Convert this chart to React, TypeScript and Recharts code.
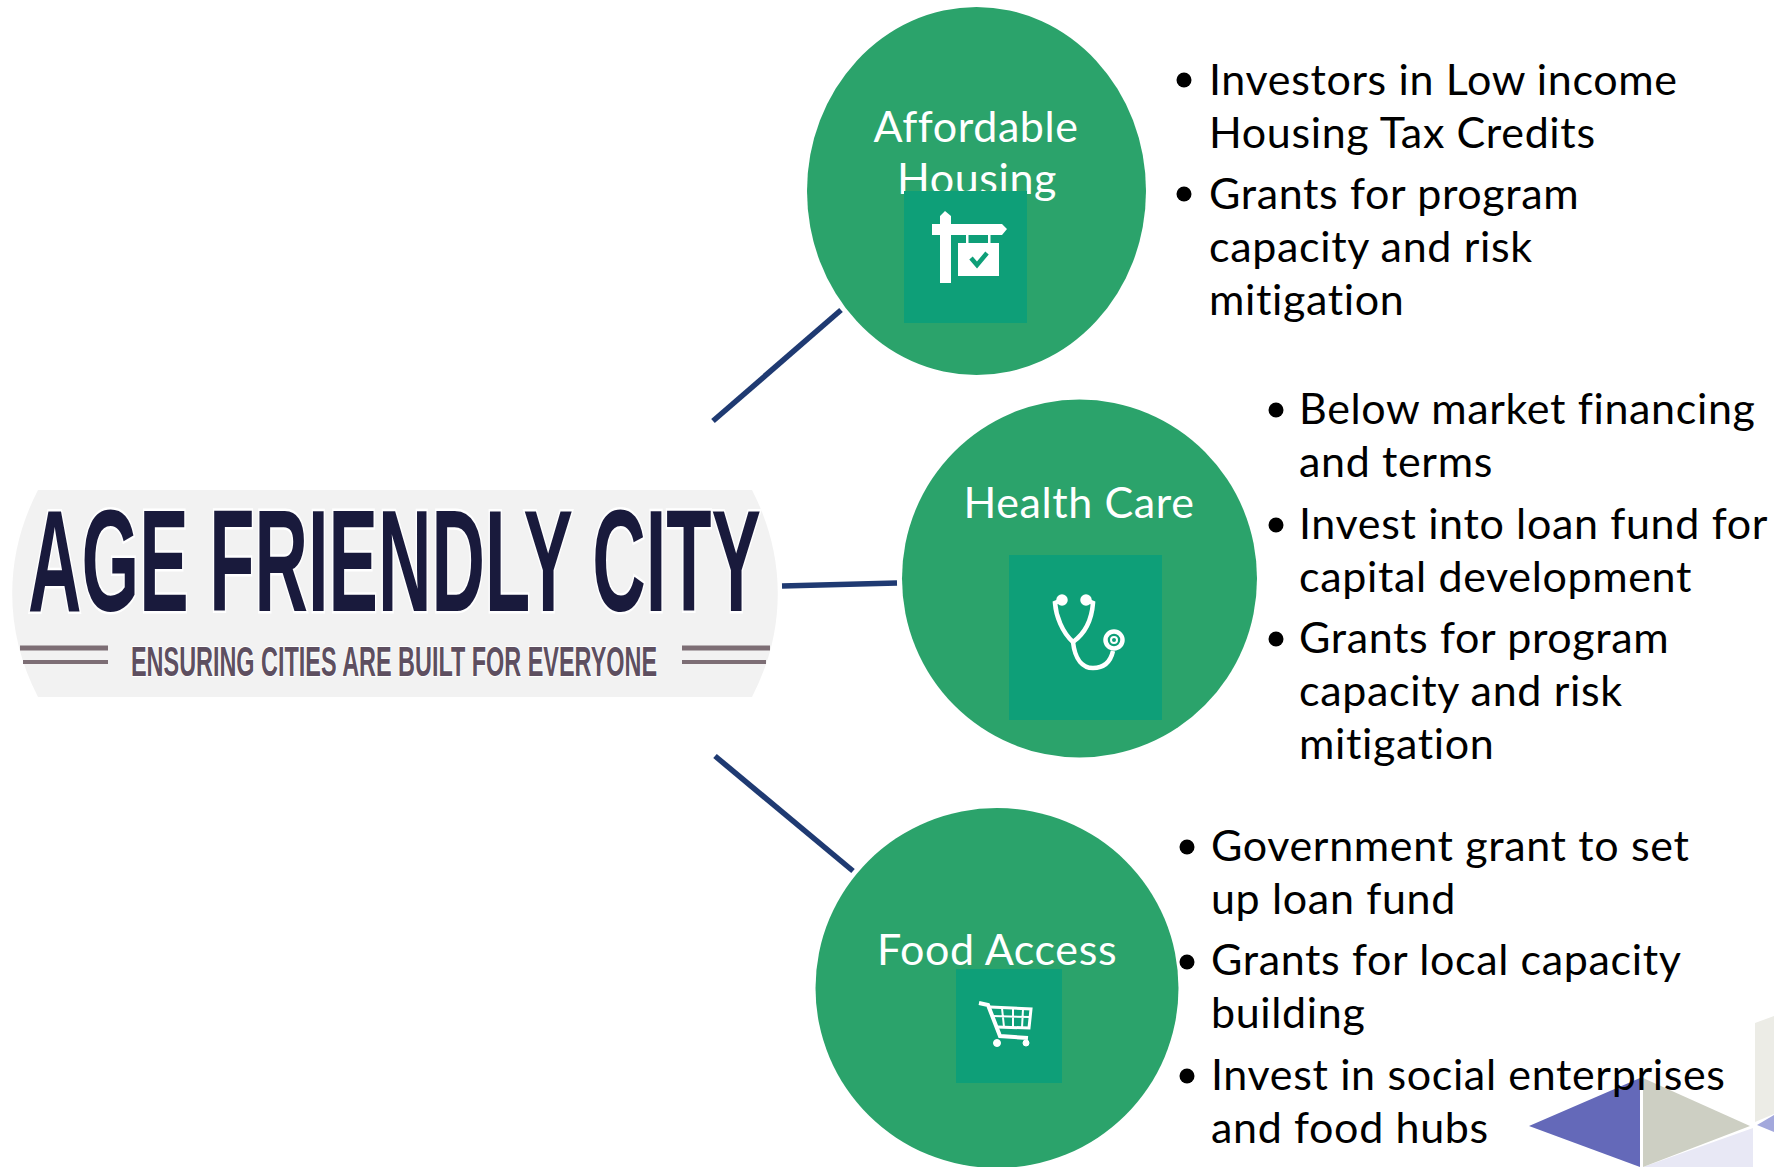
// App.tsx - Age Friendly City diagram, drawn on a pixel-sized number scale
import React from 'react';
import { ScatterChart, Scatter, XAxis, YAxis } from 'recharts';

const WIDTH = 1774;
const HEIGHT = 1167;

const GREEN = '#2BA36B';
const TEAL = '#0E9F78';
const NAVY = '#1F3A72';
const BODY_FONT = 'Lato, Carlito, sans-serif';

// logo
const logoCentre = [{ x: 395, y: 594 }];
const logoTitle = [{ x: 28, y: 611, label: 'AGE FRIENDLY CITY' }];
const logoTagline = [{ x: 131, y: 676, label: 'ENSURING CITIES ARE BUILT FOR EVERYONE' }];
const stripeLeftTop = [{ x: 20, y: 648 }, { x: 108, y: 648 }];
const stripeLeftBottom = [{ x: 23, y: 662 }, { x: 108, y: 662 }];
const stripeRightTop = [{ x: 682, y: 648 }, { x: 770, y: 648 }];
const stripeRightBottom = [{ x: 682, y: 662 }, { x: 766, y: 662 }];

// connectors
const connectorTop = [{ x: 713, y: 421 }, { x: 841, y: 310 }];
const connectorMiddle = [{ x: 782, y: 586 }, { x: 897, y: 583 }];
const connectorBottom = [{ x: 715, y: 756 }, { x: 853, y: 871 }];

// topic circles
const circles = [
  { x: 976.5, y: 191, rx: 169.5, ry: 184 },
  { x: 1079.5, y: 578.5, rx: 177.5, ry: 179 },
  { x: 997, y: 988, rx: 181.5, ry: 180 },
];
const circleLabels = [
  { x: 976, y: 142, label: 'Affordable' },
  { x: 977, y: 194, label: 'Housing' },
  { x: 1079, y: 518, label: 'Health Care' },
  { x: 997, y: 965, label: 'Food Access' },
];
const iconTiles = [
  { x: 904, y: 191, w: 123, h: 132 },
  { x: 1009, y: 555, w: 153, h: 165 },
  { x: 956, y: 969, w: 106, h: 114 },
];
const signIcon = [{ x: 940, y: 211 }];
const stethoscopeIcon = [{ x: 1086, y: 624 }];
const cartIcon = [{ x: 1000, y: 1019 }];

// bullet lists
const bullets = [
  { x: 1184, y: 80 },
  { x: 1184, y: 194 },
  { x: 1276, y: 410 },
  { x: 1276, y: 525 },
  { x: 1276, y: 639 },
  { x: 1187, y: 847 },
  { x: 1187, y: 962 },
  { x: 1187, y: 1076 },
];
const bulletLines = [
  { x: 1209, y: 95, label: 'Investors in Low income' },
  { x: 1209, y: 148, label: 'Housing Tax Credits' },
  { x: 1209, y: 209, label: 'Grants for program' },
  { x: 1209, y: 262, label: 'capacity and risk' },
  { x: 1209, y: 315, label: 'mitigation' },
  { x: 1299, y: 424, label: 'Below market financing' },
  { x: 1299, y: 477, label: 'and terms' },
  { x: 1299, y: 539, label: 'Invest into loan fund for' },
  { x: 1299, y: 592, label: 'capital development' },
  { x: 1299, y: 653, label: 'Grants for program' },
  { x: 1299, y: 706, label: 'capacity and risk' },
  { x: 1299, y: 759, label: 'mitigation' },
  { x: 1211, y: 861, label: 'Government grant to set' },
  { x: 1211, y: 914, label: 'up loan fund' },
  { x: 1211, y: 975, label: 'Grants for local capacity' },
  { x: 1211, y: 1028, label: 'building' },
  { x: 1211, y: 1090, label: 'Invest in social enterprises' },
  { x: 1211, y: 1143, label: 'and food hubs' },
];

// corner decoration
const decorPale = [{ x: 1755, y: 1023 }, { x: 1774, y: 1016 }, { x: 1774, y: 1114 }, { x: 1755, y: 1122 }];
const decorLavender = [{ x: 1643, y: 1167 }, { x: 1753, y: 1128 }, { x: 1753, y: 1167 }];
const decorBlue = [{ x: 1529, y: 1126 }, { x: 1640, y: 1078 }, { x: 1640, y: 1167 }];
const decorGrey = [{ x: 1643, y: 1078 }, { x: 1750, y: 1126 }, { x: 1643, y: 1167 }];
const decorBlueSmall = [{ x: 1757, y: 1125 }, { x: 1774, y: 1115 }, { x: 1774, y: 1132 }];

const None = () => null;

const LogoShape = ({ cx, cy }: any) => (
  <path
    transform={`translate(${cx},${cy})`}
    d="M-357,-104 L357,-104 A383,287 0 0 1 357,103 L-357,103 A383,287 0 0 1 -357,-104 Z"
    fill="#F2F2F2"
  />
);

const CircleShape = ({ cx, cy, payload }: any) => (
  <ellipse cx={cx} cy={cy} rx={payload.rx} ry={payload.ry} fill={GREEN} />
);

const TileShape = ({ cx, cy, payload }: any) => (
  <rect x={cx} y={cy} width={payload.w} height={payload.h} fill={TEAL} />
);

const BulletShape = ({ cx, cy }: any) => <circle cx={cx} cy={cy} r={7.5} fill="#000" />;

const BodyText = ({ cx, cy, payload }: any) => (
  <text x={cx} y={cy} fontFamily={BODY_FONT} fontSize={43} letterSpacing={0.65} fill="#000">
    {payload.label}
  </text>
);

const CircleText = ({ cx, cy, payload }: any) => (
  <text x={cx} y={cy} textAnchor="middle" fontFamily={BODY_FONT} fontSize={43} letterSpacing={0.6} fill="#fff">
    {payload.label}
  </text>
);

const TitleText = ({ cx, cy, payload }: any) => (
  <text
    x={cx}
    y={cy}
    fontFamily="'Liberation Sans Narrow', 'Liberation Sans', sans-serif"
    fontWeight="bold"
    fontSize={145}
    fill="#191A3C"
    stroke="#fff"
    strokeWidth={5}
    paintOrder="stroke"
    textLength={733}
    lengthAdjust="spacingAndGlyphs"
  >
    {payload.label}
  </text>
);

const TaglineText = ({ cx, cy, payload }: any) => (
  <text
    x={cx}
    y={cy}
    fontFamily="'Liberation Sans Narrow', 'Liberation Sans', sans-serif"
    fontWeight="bold"
    fontSize={43}
    fill="#5E4F60"
    stroke="#fff"
    strokeWidth={2}
    paintOrder="stroke"
    textLength={526}
    lengthAdjust="spacingAndGlyphs"
  >
    {payload.label}
  </text>
);

const SignShape = ({ cx, cy }: any) => (
  <g transform={`translate(${cx},${cy})`} fill="#fff">
    <path d="M0,5 L5,0 L11,5 L11,13 L62,13 L67,18 L62,24 L11,24 L11,72 L0,72 L0,24 L-8,24 L-8,13 L0,13 Z" />
    <rect x={26} y={24} width={2.5} height={9} />
    <rect x={48} y={24} width={2.5} height={9} />
    <rect x={18} y={32} width={41} height={33} />
    <path d="M31,47 L37,54 L47,42" fill="none" stroke={TEAL} strokeWidth={4.5} />
  </g>
);

const StethoscopeShape = ({ cx, cy }: any) => (
  <g transform={`translate(${cx},${cy})`} fill="none" stroke="#fff" strokeWidth={4.5}>
    <path d="M-24,-24 L-31,-21 C-30,-8 -24,8 -13,18 C-11,36 -3,44 7,44 C16,44 24,40 27,27" />
    <path d="M0,-24 L7,-21 C6,-8 1,8 -13,18" />
    <circle cx={-24} cy={-24} r={3.5} fill="#fff" />
    <circle cx={0} cy={-24} r={3.5} fill="#fff" />
    <circle cx={28} cy={16} r={8.5} />
    <circle cx={28} cy={16} r={3} strokeWidth={2} />
  </g>
);

const CartShape = ({ cx, cy }: any) => (
  <g transform={`translate(${cx},${cy})`} fill="none" stroke="#fff">
    <path d="M-21,-16 L-12,-14 L0,17 L28,19" strokeWidth={4} />
    <path d="M-10,-12 L31,-10 L29,9 L-3,8" strokeWidth={3} />
    <path d="M-8,-3 L30,-2 M2,-11 L4,8 M13,-11 L13,9 M23,-10 L22,9" strokeWidth={2} />
    <circle cx={-3} cy={24} r={3.5} fill="#fff" strokeWidth={1} />
    <circle cx={26} cy={24} r={3} fill="#fff" strokeWidth={1} />
  </g>
);

// draws one filled polygon from the scaled positions of its first vertex
const polygonShape = (vertices: { x: number; y: number }[], fill: string) => ({ cx, cy, payload }: any) => {
  if (payload !== vertices[0]) return null;
  const dx = cx - payload.x;
  const dy = cy - payload.y;
  const points = vertices.map((v) => `${v.x + dx},${v.y + dy}`).join(' ');
  return <polygon points={points} fill={fill} />;
};

const rule = (data: { x: number; y: number }[], stroke: string, strokeWidth: number, name: string) => (
  <Scatter
    key={name}
    name={name}
    data={data}
    line={{ stroke, strokeWidth }}
    shape={None}
    isAnimationActive={false}
  />
);

const polygon = (data: { x: number; y: number }[], fill: string, name: string) => (
  <Scatter key={name} name={name} data={data} shape={polygonShape(data, fill)} isAnimationActive={false} />
);

export default function App() {
  return (
    <div style={{ position: 'absolute', left: 0, top: 0, width: WIDTH, height: HEIGHT, background: '#fff' }}>
      <ScatterChart width={WIDTH} height={HEIGHT} margin={{ top: 0, right: 0, bottom: 0, left: 0 }}>
        <XAxis type="number" dataKey="x" domain={[0, WIDTH]} hide />
        <YAxis type="number" dataKey="y" domain={[0, HEIGHT]} reversed hide />

        <Scatter name="logo" data={logoCentre} shape={LogoShape} isAnimationActive={false} />
        {rule(stripeLeftTop, '#7D6E75', 5, 'stripe-lt')}
        {rule(stripeLeftBottom, '#7D6E75', 4, 'stripe-lb')}
        {rule(stripeRightTop, '#7D6E75', 5, 'stripe-rt')}
        {rule(stripeRightBottom, '#7D6E75', 4, 'stripe-rb')}
        <Scatter name="title" data={logoTitle} shape={TitleText} isAnimationActive={false} />
        <Scatter name="tagline" data={logoTagline} shape={TaglineText} isAnimationActive={false} />

        {rule(connectorTop, NAVY, 5.5, 'connector-top')}
        {rule(connectorMiddle, NAVY, 5.5, 'connector-middle')}
        {rule(connectorBottom, NAVY, 5.5, 'connector-bottom')}

        <Scatter name="circles" data={circles} shape={CircleShape} isAnimationActive={false} />
        <Scatter name="circle labels" data={circleLabels} shape={CircleText} isAnimationActive={false} />
        <Scatter name="tiles" data={iconTiles} shape={TileShape} isAnimationActive={false} />
        <Scatter name="sign" data={signIcon} shape={SignShape} isAnimationActive={false} />
        <Scatter name="stethoscope" data={stethoscopeIcon} shape={StethoscopeShape} isAnimationActive={false} />
        <Scatter name="cart" data={cartIcon} shape={CartShape} isAnimationActive={false} />

        {polygon(decorPale, '#ECECE6', 'decor-pale')}
        {polygon(decorLavender, '#E8E8F5', 'decor-lavender')}
        {polygon(decorBlue, '#6469B9', 'decor-blue')}
        {polygon(decorGrey, '#CDCFC3', 'decor-grey')}
        {polygon(decorBlueSmall, '#A3A8DC', 'decor-blue-small')}

        <Scatter name="bullets" data={bullets} shape={BulletShape} isAnimationActive={false} />
        <Scatter name="bullet text" data={bulletLines} shape={BodyText} isAnimationActive={false} />
      </ScatterChart>
    </div>
  );
}
